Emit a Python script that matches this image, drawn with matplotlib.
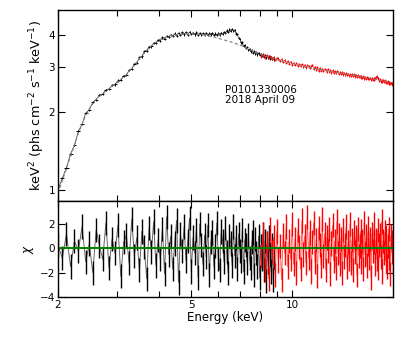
import matplotlib
matplotlib.use("Agg")
import matplotlib.pyplot as plt
from matplotlib.ticker import FixedLocator, FixedFormatter, NullLocator
import numpy as np

# ---------------- data ----------------
black_energy = [
    2.00, 2.06, 2.12, 2.18, 2.24, 2.30, 2.36, 2.42, 2.48, 2.54,
    2.60, 2.66, 2.72, 2.78, 2.84, 2.90, 2.96, 3.02, 3.08, 3.14,
    3.20, 3.26, 3.32, 3.38, 3.44, 3.50, 3.56, 3.62, 3.68, 3.74,
    3.80, 3.86, 3.92, 3.98, 4.04, 4.10, 4.16, 4.22, 4.28, 4.34,
    4.40, 4.46, 4.52, 4.58, 4.64, 4.70, 4.76, 4.82, 4.88, 4.94,
    5.00, 5.06, 5.12, 5.18, 5.24, 5.30, 5.36, 5.42, 5.48, 5.54,
    5.60, 5.66, 5.72, 5.78, 5.84, 5.90, 5.96, 6.02, 6.08, 6.14,
    6.20, 6.26, 6.32, 6.38, 6.44, 6.50, 6.56, 6.62, 6.68, 6.74,
    6.80, 6.86, 6.92, 6.98, 7.04, 7.10, 7.16, 7.22, 7.28, 7.34,
    7.40, 7.46, 7.52, 7.58, 7.64, 7.70, 7.76, 7.82, 7.88, 7.94,
    8.00, 8.06, 8.12, 8.18, 8.24, 8.30, 8.36, 8.42, 8.48, 8.54,
    8.60, 8.66, 8.72, 8.78, 8.84,
]
black_flux = [
    1.00, 1.11, 1.22, 1.38, 1.49, 1.69, 1.80, 1.99, 2.05, 2.19,
    2.24, 2.34, 2.36, 2.45, 2.46, 2.55, 2.57, 2.66, 2.67, 2.78,
    2.79, 2.92, 2.95, 3.09, 3.12, 3.27, 3.30, 3.45, 3.48, 3.60,
    3.61, 3.72, 3.71, 3.83, 3.80, 3.91, 3.87, 3.96, 3.92, 4.01,
    3.96, 4.05, 3.98, 4.07, 4.00, 4.09, 4.02, 4.10, 4.01, 4.11,
    4.03, 4.08, 4.02, 4.09, 4.01, 4.07, 4.00, 4.06, 4.01, 4.08,
    3.99, 4.06, 4.02, 4.07, 3.99, 4.05, 4.00, 4.06, 4.01, 4.08,
    4.03, 4.11, 4.06, 4.16, 4.10, 4.20, 4.13, 4.21, 4.14, 4.18,
    4.05, 4.03, 3.89, 3.87, 3.74, 3.74, 3.63, 3.65, 3.55, 3.58,
    3.49, 3.53, 3.45, 3.49, 3.41, 3.46, 3.38, 3.43, 3.36, 3.41,
    3.34, 3.38, 3.32, 3.36, 3.29, 3.34, 3.27, 3.32, 3.25, 3.30,
    3.24, 3.28, 3.22, 3.26, 3.21,
]
black_resid = [
    0.3, -0.8, 1.2, -1.5, 0.6, -0.2, 1.8, -1.1, 0.4, -2.0,
    1.5, 0.2, -0.9, 2.1, -1.6, 0.8, -0.4, 1.9, -2.3, 0.5,
    1.1, -1.2, 2.4, -0.6, 0.9, -1.8, 1.4, 0.1, -2.5, 1.7,
    -0.3, 2.2, -1.4, 0.7, -0.9, 1.6, -2.1, 2.6, -0.5, 1.0,
    -1.7, 0.4, 2.3, -2.8, 1.2, -0.2, 1.8, -1.0, 0.6, 2.5,
    -1.9, 0.9, -0.4, 1.5, -2.4, 2.0, 0.3, -1.3, 1.1, -0.7,
    1.9, -2.2, 0.5, 1.3, -1.5, 0.2, 2.1, -0.9, -1.8, 1.4,
    0.6, -1.1, 1.7, -0.3, -2.0, 1.0, 0.4, -1.4, 1.8, -0.6,
    0.9, -1.7, 1.2, -0.2, -1.0, 1.5, -1.9, 0.7, 0.3, -1.2,
    1.1, -0.8, -1.6, 0.5, 1.3, -2.2, 0.8, -0.4, -1.5, 1.0,
    -2.4, 0.2, -0.9, 1.2, -1.8, 0.6, -2.7, 0.4, -1.1, 0.9,
    -0.5, -1.9, 0.3, -2.6, -0.7,
]

red_energy = [
    8.1, 8.2, 8.3, 8.4, 8.5, 8.6, 8.7, 8.8, 8.9, 9.0,
    9.1, 9.2, 9.3, 9.4, 9.5, 9.6, 9.7, 9.8, 9.9, 10.0,
    10.1, 10.2, 10.3, 10.4, 10.5, 10.6, 10.7, 10.8, 10.9, 11.0,
    11.1, 11.2, 11.3, 11.4, 11.5, 11.6, 11.7, 11.8, 11.9, 12.0,
    12.1, 12.2, 12.3, 12.4, 12.5, 12.6, 12.7, 12.8, 12.9, 13.0,
    13.1, 13.2, 13.3, 13.4, 13.5, 13.6, 13.7, 13.8, 13.9, 14.0,
    14.1, 14.2, 14.3, 14.4, 14.5, 14.6, 14.7, 14.8, 14.9, 15.0,
    15.1, 15.2, 15.3, 15.4, 15.5, 15.6, 15.7, 15.8, 15.9, 16.0,
    16.1, 16.2, 16.3, 16.4, 16.5, 16.6, 16.7, 16.8, 16.9, 17.0,
    17.1, 17.2, 17.3, 17.4, 17.5, 17.6, 17.7, 17.8, 17.9, 18.0,
    18.1, 18.2, 18.3, 18.4, 18.5, 18.6, 18.7, 18.8, 18.9, 19.0,
    19.1, 19.2, 19.3, 19.4, 19.5, 19.6, 19.7, 19.8, 19.9, 20.0,
]
red_flux = [
    3.30, 3.36, 3.27, 3.33, 3.25, 3.30, 3.22, 3.28, 3.20, 3.26,
    3.24, 3.16, 3.22, 3.15, 3.19, 3.12, 3.17, 3.09, 3.15, 3.07,
    3.12, 3.05, 3.11, 3.04, 3.09, 3.03, 3.08, 3.01, 3.06, 2.99,
    3.05, 3.03, 2.97, 3.04, 3.06, 2.95, 3.01, 2.93, 2.99, 2.91,
    2.97, 2.90, 2.96, 2.89, 2.95, 2.93, 2.88, 2.94, 2.87, 2.92,
    2.86, 2.91, 2.85, 2.90, 2.84, 2.89, 2.88, 2.83, 2.87, 2.82,
    2.86, 2.81, 2.85, 2.80, 2.84, 2.79, 2.83, 2.78, 2.82, 2.77,
    2.82, 2.77, 2.81, 2.76, 2.80, 2.75, 2.79, 2.74, 2.78, 2.73,
    2.77, 2.72, 2.76, 2.71, 2.75, 2.70, 2.74, 2.70, 2.73, 2.69,
    2.73, 2.68, 2.72, 2.67, 2.71, 2.67, 2.72, 2.74, 2.76, 2.73,
    2.71, 2.65, 2.69, 2.64, 2.68, 2.63, 2.67, 2.62, 2.66, 2.61,
    2.65, 2.60, 2.64, 2.59, 2.63, 2.58, 2.61, 2.57, 2.60, 2.56,
]
red_resid = [
    -0.6, 1.2, -1.8, 0.4, -2.5, 1.6, -0.3, 0.9, -2.2, 1.4,
    -1.0, 0.2, -2.6, 1.1, -0.4, 1.8, -1.5, 0.6, -0.9, 2.0,
    -1.3, 0.8, -2.0, 1.5, 0.1, -1.7, 2.3, -0.5, 1.0, -1.2,
    2.6, -0.8, 1.3, -1.9, 0.5, 2.1, -1.1, 0.7, -2.3, 1.7,
    0.3, -1.4, 2.4, -0.6, 1.2, -1.8, 0.9, -0.2, 1.6, -2.1,
    0.4, 1.9, -1.0, 0.6, -1.6, 2.2, -0.4, 1.1, -1.3, 0.8,
    -2.0, 1.5, -0.7, 0.3, 1.8, -1.5, 0.5, -0.9, 2.0, -1.2,
    0.7, -1.8, 1.3, -0.3, 0.9, -2.2, 1.6, -0.6, 0.2, 1.4,
    -1.1, 0.6, -1.7, 2.1, -0.5, 1.0, -1.4, 0.4, 1.7, -0.8,
    0.8, -2.4, 1.2, -0.2, 0.5, 2.0, -1.3, 0.7, -0.9, 1.5,
    -1.6, 0.3, 1.1, -0.7, 2.2, -1.9, 0.6, -0.4, 1.3, -1.0,
    0.9, -1.5, 0.2, 1.6, -0.8, -2.1, 1.0, -0.3, 0.5, -1.2,
]

model_energy = [2.0, 2.1, 2.2, 2.3, 2.4, 2.5, 2.6, 2.8, 3.0, 3.2, 3.4, 3.6,
                3.8, 4.0, 4.3, 4.6, 5.0, 5.4, 5.8, 6.2, 6.6, 7.0, 7.5, 8.0,
                8.6, 9.3, 10.0, 11.0, 12.0, 13.5, 15.0, 17.0, 20.0]
model_flux = [0.97, 1.17, 1.40, 1.66, 1.90, 2.10, 2.25, 2.44, 2.61, 2.81,
              3.08, 3.38, 3.63, 3.83, 3.97, 4.03, 4.04, 4.01, 3.94, 3.84,
              3.75, 3.65, 3.50, 3.38, 3.26, 3.17, 3.10, 3.01, 2.94, 2.87,
              2.80, 2.72, 2.61]

x_ticks = [2, 5, 10]
x_tick_labels = ["2", "5", "10"]
x_minor = [3, 4, 6, 7, 8, 9]
top_yticks = [1, 2, 3, 4]
bot_yticks = [-4, -2, 0, 2]
bot_yticklabels = ["\u22124", "\u22122", "0", "2"]
obs_label = "P0101330006\n2018 April 09"

# ---------------- figure ----------------
plt.rcParams['font.family'] = ['DejaVu Sans']
fig = plt.figure(figsize=(4.07, 3.39), dpi=100)
ax1 = fig.add_axes([0.1425, 0.4071, 0.8231, 0.5634])
ax2 = fig.add_axes([0.1425, 0.1239, 0.8231, 0.2832])

tick_fs = 7.5
lab_fs = 8.5

be = np.array(black_energy); bf = np.array(black_flux); br = np.array(black_resid)
re = np.array(red_energy); rf = np.array(red_flux); rr = np.array(red_resid)

# top panel
ax1.errorbar(be, bf, xerr=0.03, yerr=bf * 0.010, fmt='none', ecolor='black',
             elinewidth=0.7, capsize=0)
ax1.plot(be, bf, color='black', lw=0.6, alpha=0.7)
ax1.errorbar(re, rf, xerr=0.05, yerr=rf * 0.010, fmt='none', ecolor='red',
             elinewidth=0.7, capsize=0)
ax1.plot(re, rf, color='red', lw=0.6, alpha=0.7)
ax1.plot(model_energy, model_flux, color='gray', lw=0.8, ls=(0, (3, 2)))
ax1.text(0.50, 0.605, obs_label, transform=ax1.transAxes, ha='left', va='top',
         fontsize=tick_fs, linespacing=1.0)

ax1.set_xscale('log'); ax1.set_yscale('log')
ax1.set_xlim(2, 20); ax1.set_ylim(0.906, 5.0)
ax1.yaxis.set_major_locator(FixedLocator(top_yticks))
ax1.yaxis.set_major_formatter(FixedFormatter([str(v) for v in top_yticks]))
ax1.yaxis.set_minor_locator(NullLocator())
ax1.xaxis.set_major_locator(FixedLocator(x_ticks))
ax1.xaxis.set_minor_locator(FixedLocator(x_minor))
ax1.tick_params(axis='x', which='both', labelbottom=False)
ax1.set_ylabel("keV$^2$ (phs cm$^{-2}$ s$^{-1}$ keV$^{-1}$)", fontsize=9.2, labelpad=1)

# bottom panel
ax2.vlines(be, br - 1, br + 1, color='black', lw=1.0)
ax2.plot(be, br, color='black', lw=0.7, alpha=0.6)
ax2.vlines(re, rr - 1, rr + 1, color='red', lw=1.0)
ax2.plot(re, rr, color='red', lw=0.7, alpha=0.6)
ax2.axhline(0, color='green', lw=1.4)
ax2.set_xscale('log')
ax2.set_xlim(2, 20); ax2.set_ylim(-4, 3.9)
ax2.xaxis.set_major_locator(FixedLocator(x_ticks))
ax2.xaxis.set_major_formatter(FixedFormatter(x_tick_labels))
ax2.xaxis.set_minor_locator(FixedLocator(x_minor))
ax2.xaxis.set_minor_formatter(FixedFormatter([""] * len(x_minor)))
ax2.yaxis.set_major_locator(FixedLocator(bot_yticks))
ax2.yaxis.set_major_formatter(FixedFormatter(bot_yticklabels))
ax2.set_xlabel("Energy (keV)", fontsize=lab_fs, labelpad=1)
ax2.set_ylabel("$\\chi$", fontsize=lab_fs, labelpad=3)

for ax in (ax1, ax2):
    ax.tick_params(which='both', direction='in', top=True, right=True,
                   labelsize=tick_fs, pad=2)
    ax.tick_params(which='major', length=5, width=0.8)
    ax.tick_params(which='minor', length=4, width=0.8)
    for s in ax.spines.values():
        s.set_linewidth(1.0)

fig.savefig("out.png", dpi=100)
